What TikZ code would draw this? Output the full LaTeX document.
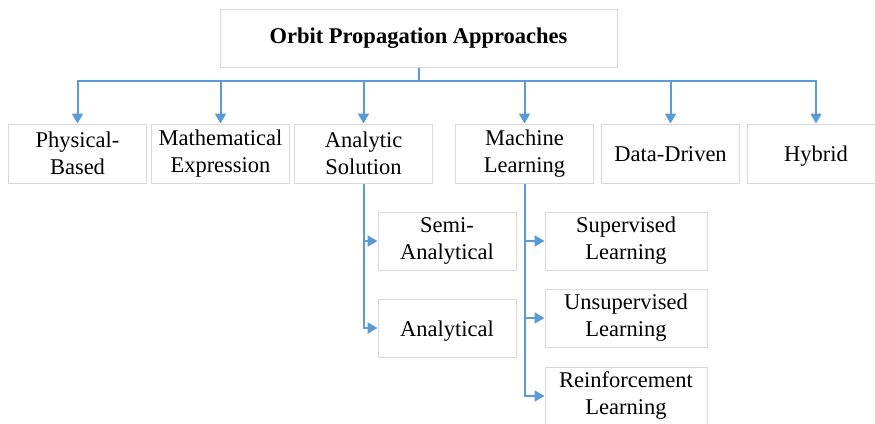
\documentclass[tikz,border=0pt]{standalone}
\usepackage{fontspec}
\setmainfont{Liberation Serif}
\usetikzlibrary{arrows.meta}
\definecolor{lineblue}{RGB}{91,155,213}
\definecolor{boxgray}{RGB}{214,218,224}
\tikzset{
  box/.style={draw=boxgray, line width=1pt, fill=white, align=center,
    inner sep=0pt, font=\fontsize{22.5}{27}\selectfont, text=black},
  one/.style={text height=21pt, text depth=5pt},
  conn/.style={draw=lineblue, line width=2pt},
  arr/.style={conn, -{Triangle[length=10pt,width=11pt]}}
}
\begin{document}
\begin{tikzpicture}[x=1pt,y=-1pt]
\clip (0,0) rectangle (875,423);
\fill[white] (0,0) rectangle (875,423);
\node[box, minimum width=397pt, minimum height=58pt,
  font=\fontsize{22.5}{27}\selectfont\bfseries] (top) at (418.5,38) {Orbit Propagation Approaches};
\tikzset{row/.style={box, minimum width=138pt, minimum height=59pt}}
\node[row] (pb) at (77.5,153.5) {Physical-\\Based};
\node[row] (me) at (220.5,153.5) {Mathematical\\Expression};
\node[row] (as) at (363.5,153.5) {Analytic\\Solution};
\node[row] (ml) at (524.5,153.5) {Machine\\Learning};
\node[row, one] (dd) at (670.5,153.5) {Data-Driven};
\node[row, one] (hy) at (816,153.5) {Hybrid};
\node[box, minimum width=138pt, minimum height=58pt] (sa) at (447,241) {Semi-\\Analytical};
\node[box, one, minimum width=138pt, minimum height=58pt] (an) at (447,328) {Analytical};
\tikzset{sub/.style={box, minimum width=162pt, minimum height=58pt}}
\node[sub] (sl) at (626,241) {Supervised\\Learning};
\node[sub] (ul) at (626,318) {Unsupervised\\Learning};
\node[sub] (rl) at (626,396) {Reinforcement\\Learning};
\coordinate (bus) at (418.5,81);
\foreach \c in {pb,me,as,ml,dd,hy}{
  \draw[arr] (top.south) -- (bus) -| (\c.north);
}
\draw[arr] (as.south) |- (sa.west);
\draw[arr] (as.south) |- (an.west);
\draw[arr] (ml.south) |- (sl.west);
\draw[arr] (ml.south) |- (ul.west);
\draw[arr] (ml.south) |- (rl.west);
\end{tikzpicture}
\end{document}
